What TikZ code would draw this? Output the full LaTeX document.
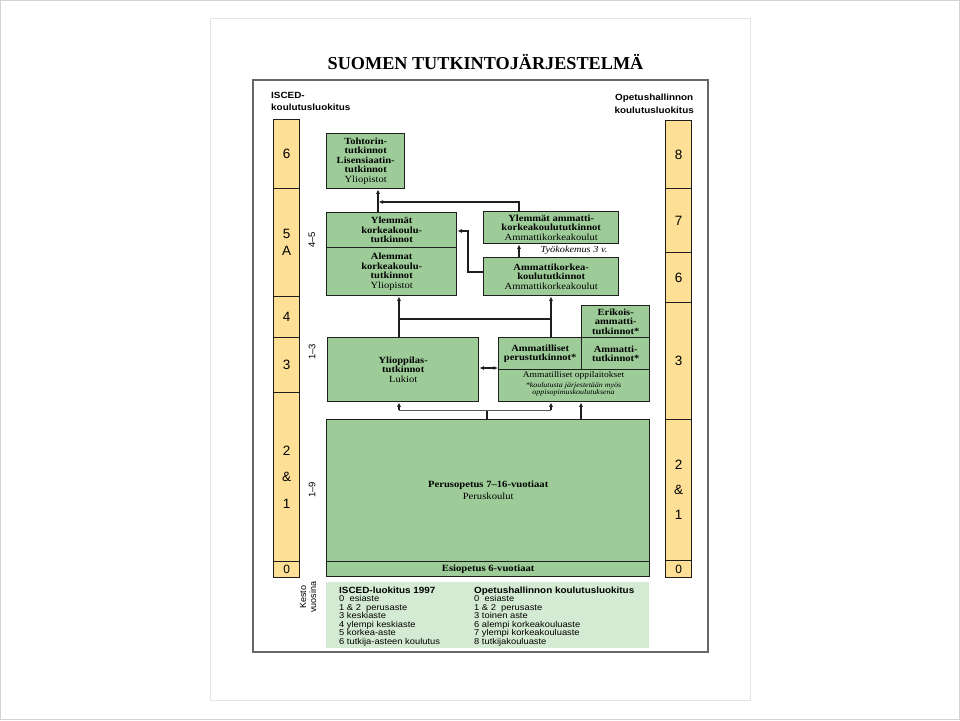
\documentclass[tikz,border=0pt]{standalone}
\usepackage{fontspec}
\setmainfont{Liberation Serif}[FakeStretch=1.12]
\setsansfont{Liberation Sans}
\newfontfamily\titlefont{Liberation Serif}
\newfontfamily\widesans{Liberation Sans}[FakeStretch=1.1]
\usetikzlibrary{arrows.meta,calc}
\definecolor{boxgreen}{RGB}{157,204,152}
\definecolor{coly}{RGB}{253,224,150}
\definecolor{lgreen}{RGB}{212,234,210}
\definecolor{edge}{RGB}{30,30,30}
\begin{document}
\begin{tikzpicture}[x=1pt,y=-1pt,
  colseg/.style={draw=edge, line width=1.3pt, fill=coly, inner sep=0pt, align=center,
    anchor=north west, minimum width=26pt, font=\sffamily\fontsize{13.5}{17}\selectfont},
  gbox/.style={draw=edge, line width=1.4pt, fill=boxgreen, inner sep=1pt, align=center,
    anchor=north west, font=\fontsize{9.4}{9.5}\selectfont},
  vlab/.style={rotate=90, font=\sffamily\fontsize{9.5}{10}\selectfont, align=center, inner sep=0pt},
  lgtxt/.style={anchor=north west, inner sep=0pt, align=left, font=\widesans\fontsize{8.5}{8.5}\selectfont},
  arr/.style={draw=edge, line width=1.2pt, -{Latex[length=4.5pt,width=4pt]}},
  dblarr/.style={draw=edge, line width=1.2pt, {Latex[length=4.5pt,width=4pt]}-{Latex[length=4.5pt,width=4pt]}},
  link/.style={draw=edge, line width=1.2pt},
  thinlink/.style={draw=black!65, line width=1pt}
]
\useasboundingbox (0,0) rectangle (960,720);
\draw[gray!35, line width=1pt] (0.5,0.5) rectangle (959.5,719.5);
\draw[gray!20, line width=0.8pt] (210,18) rectangle (750,700);

% title
\node[anchor=base, font=\titlefont\bfseries\fontsize{18.2}{20}\selectfont, inner sep=0pt] (title) at (485.5,69) {SUOMEN TUTKINTOJÄRJESTELMÄ};

% frame
\draw[draw=black!60, line width=1.6pt] (253,80) rectangle (708,652);

% headers
\node[anchor=north west, inner sep=0pt, align=left, font=\widesans\bfseries\fontsize{9}{12.5}\selectfont] (hl) at (271,92) {ISCED-\\koulutusluokitus};
\node[anchor=north east, inner sep=0pt, align=center, font=\widesans\bfseries\fontsize{9}{12.5}\selectfont] (hr) at (694,94) {Opetushallinnon\\koulutusluokitus};

% left column
\node[colseg, minimum height=69pt] (l6) at (273,119) {6};
\node[colseg, minimum height=108pt] (l5) at (273,188) {5\\A};
\node[colseg, minimum height=41pt] (l4) at (273,296) {4};
\node[colseg, minimum height=55pt] (l3) at (273,337) {3};
\node[colseg, minimum height=169pt, font=\sffamily\fontsize{13.5}{26.5}\selectfont] (l21) at (273,392) {2\\\&\\1};
\node[colseg, minimum height=16pt, font=\sffamily\fontsize{12}{13}\selectfont] (l0) at (273,561) {0};

% right column
\node[colseg, minimum height=68pt] (r8) at (665,120) {8};
\node[colseg, minimum height=64pt] (r7) at (665,188) {7};
\node[colseg, minimum height=50pt] (r6) at (665,252) {6};
\node[colseg, minimum height=117pt] (r3) at (665,302) {3};
\node[colseg, minimum height=141pt, font=\sffamily\fontsize{13.5}{25}\selectfont] (r21) at (665,419) {2\\\&\\1};
\node[colseg, minimum height=17pt, font=\sffamily\fontsize{12}{13}\selectfont] (r0) at (665,560) {0};

% duration labels
\node[vlab] (d45) at (312,240) {4–5};
\node[vlab] (d13) at (312,352) {1–3};
\node[vlab] (d19) at (312,490) {1–9};
\node[vlab, font=\sffamily\fontsize{9}{10}\selectfont] (kesto) at (308,597) {Kesto\\vuosina};

% green boxes
\node[gbox, minimum width=78pt, minimum height=55pt] (tohtori) at (326,133)
  {\textbf{Tohtorin-}\\\textbf{tutkinnot}\\\textbf{Lisensiaatin-}\\\textbf{tutkinnot}\\Yliopistot};
\node[gbox, minimum width=130pt, minimum height=35pt] (ylk) at (326,212)
  {\textbf{Ylemmät}\\\textbf{korkeakoulu-}\\\textbf{tutkinnot}};
\node[gbox, minimum width=130pt, minimum height=48pt] (alk) at (326,247)
  {\textbf{Alemmat}\\\textbf{korkeakoulu-}\\\textbf{tutkinnot}\\Yliopistot};
\node[gbox, minimum width=135pt, minimum height=32pt] (yamk) at (483,211)
  {\textbf{Ylemmät ammatti-}\\\textbf{korkeakoulututkinnot}\\Ammattikorkeakoulut};
\node[gbox, minimum width=135pt, minimum height=38pt] (amk) at (483,257)
  {\textbf{Ammattikorkea-}\\\textbf{koulututkinnot}\\Ammattikorkeakoulut};
\node[inner sep=0pt, font=\itshape\fontsize{9.2}{9}\selectfont] (tyo) at (574,250) {Työkokemus 3 v.};

\node[gbox, minimum width=151pt, minimum height=64pt] (yo) at (327,337)
  {\textbf{Ylioppilas-}\\\textbf{tutkinnot}\\Lukiot};
\node[gbox, minimum width=151pt, minimum height=32pt] (amopp) at (498,369) {};
\node[gbox, minimum width=83pt, minimum height=32pt] (amper) at (498,337)
  {\textbf{Ammatilliset}\\\textbf{perustutkinnot*}};
\node[gbox, minimum width=68pt, minimum height=32pt] (amtut) at (581,337)
  {\textbf{Ammatti-}\\\textbf{tutkinnot*}};
\node[gbox, minimum width=68pt, minimum height=32pt] (erik) at (581,305)
  {\textbf{Erikois-}\\\textbf{ammatti-}\\\textbf{tutkinnot*}};
\node[inner sep=0pt, font=\fontsize{8.5}{9}\selectfont] (amopptxt) at (573.5,375.5) {Ammatilliset oppilaitokset};
\node[inner sep=0pt, align=center, font=\itshape\fontsize{7.1}{7}\selectfont] (note) at (573.5,389.5)
  {*koulutusta järjestetään myös\\oppisopimuskoulutuksena};

\node[gbox, minimum width=323pt, minimum height=142pt, font=\fontsize{9.5}{12}\selectfont] (perus) at (326,419)
  {\textbf{Perusopetus 7–16-vuotiaat}\\Peruskoulut};
\node[gbox, minimum width=323pt, minimum height=15pt, font=\fontsize{9.5}{10}\selectfont] (esi) at (326,561)
  {\textbf{Esiopetus 6-vuotiaat}};

% legend
\node[fill=lgreen, anchor=north west, minimum width=323pt, minimum height=66pt, inner sep=0pt] (lgd) at (326,582) {};
\node[lgtxt] (lgl) at (339,586.5)
  {{\bfseries\fontsize{9}{8.6}\selectfont ISCED-luokitus 1997}\\
   0\ \ esiaste\\1 \& 2\ \ perusaste\\3 keskiaste\\4 ylempi keskiaste\\5 korkea-aste\\6 tutkija-asteen koulutus};
\node[lgtxt] (lgr) at (474,586.5)
  {{\bfseries\fontsize{9}{8.6}\selectfont Opetushallinnon koulutusluokitus}\\
   0\ \ esiaste\\1 \& 2\ \ perusaste\\3 toinen aste\\6 alempi korkeakouluaste\\7 ylempi korkeakouluaste\\8 tutkijakouluaste};

% connectors
\coordinate (xa) at (378,0);
\coordinate (ja) at (378.6,202);
\coordinate (xb) at (519,0);
\coordinate (xc) at (468,0);
\coordinate (xl) at (399,0);
\coordinate (xr) at (551,0);
\coordinate (xm) at (487,0);
\coordinate (xs) at (581,0);

\draw[arr] (ylk.north -| xa) -- (tohtori.south -| xa);
\draw[arr] (yamk.north -| xb) |- (ja);
\draw[arr] (amk.west |- 0,272) -| (xc |- 0,231) -- (ylk.east |- 0,231);
\draw[arr] (amk.north -| xb) -- (yamk.south -| xb);

\draw[arr] (yo.north -| xl) -- (alk.south -| xl);
\draw[arr] (amper.north -| xr) -- (amk.south -| xr);
\draw[link] (xl |- 0,319) -- (xr |- 0,319);

\draw[dblarr] (yo.east |- 0,368) -- (amper.west |- 0,368);

\draw[link] (perus.north -| xm) -- (xm |- 0,410);
\draw[thinlink] (xl |- 0,410) -- (xr |- 0,410);
\draw[arr] (xl |- 0,410) -- (yo.south -| xl);
\draw[arr] (xr |- 0,410) -- (amopp.south -| xr);
\draw[arr] (perus.north -| xs) -- (amopp.south -| xs);
\end{tikzpicture}
\end{document}
